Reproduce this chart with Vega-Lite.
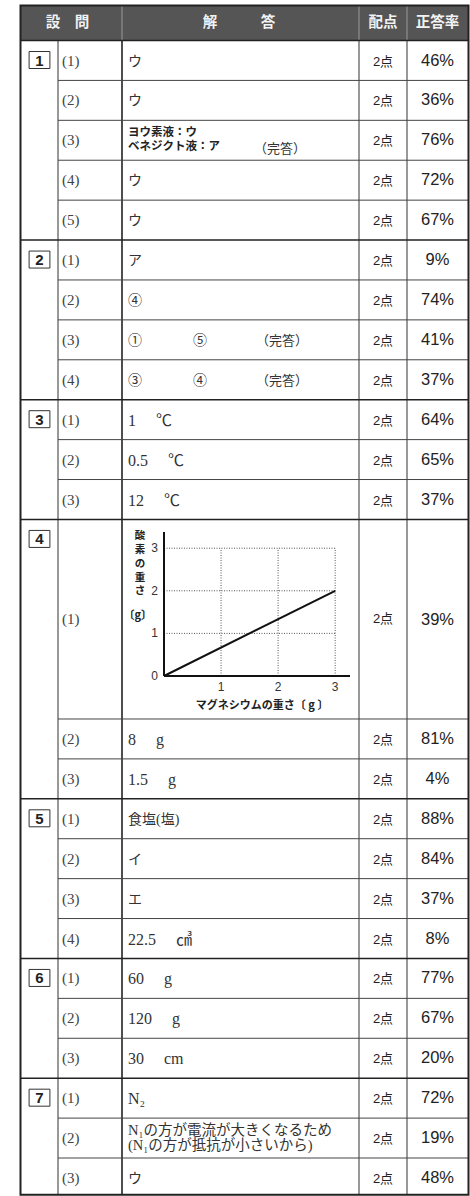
{
"$schema": "https://vega.github.io/schema/vega-lite/v6.json",
"width": 470, "height": 1196, "autosize": {"type": "none"}, "padding": 0, "background": "white",
"config": {"view": {"stroke": null}, "axis": {"disable": true}},
"datasets": {
"rows": [
{"q":"1","sub":"(1)","row":0,"span":1,"ans":"ウ","pt":"2点","rate":"46%"},
{"q":"1","sub":"(2)","row":1,"span":1,"ans":"ウ","pt":"2点","rate":"36%"},
{"q":"1","sub":"(3)","row":2,"span":1,"bold":"ヨウ素液：ウ\nベネジクト液：ア","kanto":"（完答）","pt":"2点","rate":"76%"},
{"q":"1","sub":"(4)","row":3,"span":1,"ans":"ウ","pt":"2点","rate":"72%"},
{"q":"1","sub":"(5)","row":4,"span":1,"ans":"ウ","pt":"2点","rate":"67%"},
{"q":"2","sub":"(1)","row":5,"span":1,"ans":"ア","pt":"2点","rate":"9%"},
{"q":"2","sub":"(2)","row":6,"span":1,"ans":"④","pt":"2点","rate":"74%"},
{"q":"2","sub":"(3)","row":7,"span":1,"ans":"①","a2":"⑤","a3":"（完答）","pt":"2点","rate":"41%"},
{"q":"2","sub":"(4)","row":8,"span":1,"ans":"③","a2":"④","a3":"（完答）","pt":"2点","rate":"37%"},
{"q":"3","sub":"(1)","row":9,"span":1,"ans":"1　 ℃","pt":"2点","rate":"64%"},
{"q":"3","sub":"(2)","row":10,"span":1,"ans":"0.5　 ℃","pt":"2点","rate":"65%"},
{"q":"3","sub":"(3)","row":11,"span":1,"ans":"12　 ℃","pt":"2点","rate":"37%"},
{"q":"4","sub":"(1)","row":12,"span":5,"pt":"2点","rate":"39%"},
{"q":"4","sub":"(2)","row":17,"span":1,"ans":"8　 g","pt":"2点","rate":"81%"},
{"q":"4","sub":"(3)","row":18,"span":1,"ans":"1.5　 g","pt":"2点","rate":"4%"},
{"q":"5","sub":"(1)","row":19,"span":1,"ans":"食塩(塩)","pt":"2点","rate":"88%"},
{"q":"5","sub":"(2)","row":20,"span":1,"ans":"イ","pt":"2点","rate":"84%"},
{"q":"5","sub":"(3)","row":21,"span":1,"ans":"エ","pt":"2点","rate":"37%"},
{"q":"5","sub":"(4)","row":22,"span":1,"ans":"22.5　 ㎤","pt":"2点","rate":"8%"},
{"q":"6","sub":"(1)","row":23,"span":1,"ans":"60　 g","pt":"2点","rate":"77%"},
{"q":"6","sub":"(2)","row":24,"span":1,"ans":"120　 g","pt":"2点","rate":"67%"},
{"q":"6","sub":"(3)","row":25,"span":1,"ans":"30　 cm","pt":"2点","rate":"20%"},
{"q":"7","sub":"(1)","row":26,"span":1,"ans":"N₂","pt":"2点","rate":"72%"},
{"q":"7","sub":"(2)","row":27,"span":1,"ans":"N₁の方が電流が大きくなるため\n(N₁の方が抵抗が小さいから)","pt":"2点","rate":"19%"},
{"q":"7","sub":"(3)","row":28,"span":1,"ans":"ウ","pt":"2点","rate":"48%"}
],
"header": [{"col":"q","label":"設　問"},{"col":"ans","label":"解　　　答"},{"col":"pt","label":"配点"},{"col":"rate","label":"正答率"}],
"frame": [{"id":1}],
"ticks": [{"v":0},{"v":1},{"v":2},{"v":3}],
"mg": [{"mg":0,"o":0},{"mg":3,"o":2}]
},
"resolve": {"scale": {"x": "independent", "y": "independent"}},
"layer": [
{
"layer": [
{"data":{"name":"frame"},"mark":{"type":"rect","fill":"#555555"},
 "encoding":{"x":{"datum":20.5,"type":"quantitative","scale":{"domain":[0,470],"nice":false,"zero":false}},"x2":{"datum":468.5},
 "y":{"datum":-0.88,"type":"quantitative","scale":{"domain":[-1.0148,28.952],"reverse":true,"nice":false,"zero":false}},"y2":{"datum":0}}},
{"data":{"name":"frame"},"mark":{"type":"rule","color":"#9a9a9a","strokeWidth":1},
 "encoding":{"x":{"datum":122,"type":"quantitative"},"y":{"datum":-0.88,"type":"quantitative"},"y2":{"datum":0}}},
{"data":{"name":"frame"},"mark":{"type":"rule","color":"#9a9a9a","strokeWidth":1},
 "encoding":{"x":{"datum":359,"type":"quantitative"},"y":{"datum":-0.88,"type":"quantitative"},"y2":{"datum":0}}},
{"data":{"name":"frame"},"mark":{"type":"rule","color":"#9a9a9a","strokeWidth":1},
 "encoding":{"x":{"datum":407,"type":"quantitative"},"y":{"datum":-0.88,"type":"quantitative"},"y2":{"datum":0}}},
{"data":{"name":"frame"},"mark":{"type":"rule","color":"#333333","strokeWidth":1},
 "encoding":{"x":{"datum":58,"type":"quantitative"},"y":{"datum":0,"type":"quantitative"},"y2":{"datum":28.92}}},
{"data":{"name":"frame"},"mark":{"type":"rule","color":"#222222","strokeWidth":1.6},
 "encoding":{"x":{"datum":122,"type":"quantitative"},"y":{"datum":0,"type":"quantitative"},"y2":{"datum":28.92}}},
{"data":{"name":"frame"},"mark":{"type":"rule","color":"#333333","strokeWidth":1},
 "encoding":{"x":{"datum":359,"type":"quantitative"},"y":{"datum":0,"type":"quantitative"},"y2":{"datum":28.92}}},
{"data":{"name":"frame"},"mark":{"type":"rule","color":"#333333","strokeWidth":1},
 "encoding":{"x":{"datum":407,"type":"quantitative"},"y":{"datum":0,"type":"quantitative"},"y2":{"datum":28.92}}},
{"data":{"name":"rows"},"transform":[{"filter":"datum.sub != '(1)'"}],"mark":{"type":"rule","color":"#444444","strokeWidth":1},
 "encoding":{"x":{"datum":58,"type":"quantitative"},"x2":{"datum":468.5},"y":{"field":"row","type":"quantitative"}}},
{"data":{"name":"rows"},"transform":[{"filter":"datum.sub == '(1)'"}],"mark":{"type":"rule","color":"#222222","strokeWidth":1.5},
 "encoding":{"x":{"datum":20.5,"type":"quantitative"},"x2":{"datum":468.5},"y":{"field":"row","type":"quantitative"}}},
{"data":{"name":"header"},"transform":[{"filter":"datum.col == 'q'"}],"mark":{"type":"text","align":"center","baseline":"middle","font":"'Noto Sans CJK JP', sans-serif","fontWeight":"bold","fontSize":14.5,"fill":"#f2f2f2"},
 "encoding":{"x":{"datum":67.5,"type":"quantitative"},"y":{"datum":-0.44,"type":"quantitative"},"text":{"field":"label"}}},
{"data":{"name":"header"},"transform":[{"filter":"datum.col == 'ans'"}],"mark":{"type":"text","align":"center","baseline":"middle","font":"'Noto Sans CJK JP', sans-serif","fontWeight":"bold","fontSize":14.5,"fill":"#f2f2f2"},
 "encoding":{"x":{"datum":239,"type":"quantitative"},"y":{"datum":-0.44,"type":"quantitative"},"text":{"field":"label"}}},
{"data":{"name":"header"},"transform":[{"filter":"datum.col == 'pt'"}],"mark":{"type":"text","align":"center","baseline":"middle","font":"'Noto Sans CJK JP', sans-serif","fontWeight":"bold","fontSize":14.5,"fill":"#f2f2f2"},
 "encoding":{"x":{"datum":383,"type":"quantitative"},"y":{"datum":-0.44,"type":"quantitative"},"text":{"field":"label"}}},
{"data":{"name":"header"},"transform":[{"filter":"datum.col == 'rate'"}],"mark":{"type":"text","align":"center","baseline":"middle","font":"'Noto Sans CJK JP', sans-serif","fontWeight":"bold","fontSize":14.5,"fill":"#f2f2f2"},
 "encoding":{"x":{"datum":437.5,"type":"quantitative"},"y":{"datum":-0.44,"type":"quantitative"},"text":{"field":"label"}}},
{"data":{"name":"rows"},"transform":[{"filter":"datum.sub == '(1)'"}],"mark":{"type":"point","shape":"M-1.3,1.375H1.3V3.5H-1.3Z","size":256,"filled":false,"stroke":"#333333","strokeWidth":1,"opacity":1},
 "encoding":{"x":{"datum":39.5,"type":"quantitative"},"y":{"field":"row","type":"quantitative"}}},
{"data":{"name":"rows"},"transform":[{"filter":"datum.sub == '(1)'"}],"mark":{"type":"text","align":"center","baseline":"middle","dy":20,"font":"'Liberation Sans', sans-serif","fontWeight":"bold","fontSize":15,"fill":"#222222"},
 "encoding":{"x":{"datum":39.5,"type":"quantitative"},"y":{"field":"row","type":"quantitative"},"text":{"field":"q"}}},
{"data":{"name":"rows"},"transform":[{"filter":"datum.span == 1"}],"mark":{"type":"text","align":"left","baseline":"middle","dy":20,"font":"'Liberation Serif', serif","fontSize":15,"fill":"#444444"},
 "encoding":{"x":{"datum":62,"type":"quantitative"},"y":{"field":"row","type":"quantitative"},"text":{"field":"sub"}}},
{"data":{"name":"rows"},"transform":[{"filter":"datum.span == 5"}],"mark":{"type":"text","align":"left","baseline":"middle","dy":100,"font":"'Liberation Serif', serif","fontSize":15,"fill":"#444444"},
 "encoding":{"x":{"datum":62,"type":"quantitative"},"y":{"field":"row","type":"quantitative"},"text":{"field":"sub"}}},
{"data":{"name":"rows"},"transform":[{"filter":"isValid(datum.ans) && test(/^[0-9N]/, datum.ans) && !test(/\\n/, datum.ans)"}],"mark":{"type":"text","align":"left","baseline":"middle","dy":21,"font":"'Liberation Serif', 'Noto Sans CJK JP', serif","fontSize":16,"fill":"#333333"},
 "encoding":{"x":{"datum":128,"type":"quantitative"},"y":{"field":"row","type":"quantitative"},"text":{"field":"ans"}}},
{"data":{"name":"rows"},"transform":[{"filter":"isValid(datum.ans) && !test(/^[0-9N]/, datum.ans)"}],"mark":{"type":"text","align":"left","baseline":"middle","dy":21,"font":"'Liberation Serif', 'Noto Sans CJK JP', serif","fontSize":14,"fill":"#333333"},
 "encoding":{"x":{"datum":128,"type":"quantitative"},"y":{"field":"row","type":"quantitative"},"text":{"field":"ans"}}},
{"data":{"name":"rows"},"transform":[{"filter":"isValid(datum.ans) && test(/\\n/, datum.ans)"}],"mark":{"type":"text","align":"left","baseline":"middle","dy":13,"lineBreak":"\n","lineHeight":15,"font":"'Liberation Serif', 'Noto Sans CJK JP', serif","fontSize":14.5,"fill":"#333333"},
 "encoding":{"x":{"datum":128,"type":"quantitative"},"y":{"field":"row","type":"quantitative"},"text":{"field":"ans"}}},
{"data":{"name":"rows"},"transform":[{"filter":"isValid(datum.a2)"}],"mark":{"type":"text","align":"left","baseline":"middle","dy":21,"font":"'Liberation Serif', 'Noto Sans CJK JP', serif","fontSize":14,"fill":"#333333"},
 "encoding":{"x":{"datum":193,"type":"quantitative"},"y":{"field":"row","type":"quantitative"},"text":{"field":"a2"}}},
{"data":{"name":"rows"},"transform":[{"filter":"isValid(datum.a3)"}],"mark":{"type":"text","align":"left","baseline":"middle","dy":21,"font":"'Noto Sans CJK JP', serif","fontSize":13,"fill":"#333333"},
 "encoding":{"x":{"datum":256,"type":"quantitative"},"y":{"field":"row","type":"quantitative"},"text":{"field":"a3"}}},
{"data":{"name":"rows"},"transform":[{"filter":"isValid(datum.bold)"}],"mark":{"type":"text","align":"left","baseline":"middle","dy":12.5,"lineBreak":"\n","lineHeight":14,"font":"'Noto Sans CJK JP', sans-serif","fontWeight":"bold","fontSize":11.5,"fill":"#222222"},
 "encoding":{"x":{"datum":128,"type":"quantitative"},"y":{"field":"row","type":"quantitative"},"text":{"field":"bold"}}},
{"data":{"name":"rows"},"transform":[{"filter":"isValid(datum.kanto)"}],"mark":{"type":"text","align":"left","baseline":"middle","dy":29,"font":"'Noto Sans CJK JP', serif","fontSize":13,"fill":"#333333"},
 "encoding":{"x":{"datum":254,"type":"quantitative"},"y":{"field":"row","type":"quantitative"},"text":{"field":"kanto"}}},
{"data":{"name":"rows"},"transform":[{"filter":"datum.span == 1"}],"mark":{"type":"text","align":"center","baseline":"middle","dy":21,"font":"'Liberation Sans', 'Noto Sans CJK JP', sans-serif","fontSize":13,"fill":"#222222"},
 "encoding":{"x":{"datum":383,"type":"quantitative"},"y":{"field":"row","type":"quantitative"},"text":{"field":"pt"}}},
{"data":{"name":"rows"},"transform":[{"filter":"datum.span == 5"}],"mark":{"type":"text","align":"center","baseline":"middle","dy":100,"font":"'Liberation Sans', 'Noto Sans CJK JP', sans-serif","fontSize":13,"fill":"#222222"},
 "encoding":{"x":{"datum":383,"type":"quantitative"},"y":{"field":"row","type":"quantitative"},"text":{"field":"pt"}}},
{"data":{"name":"rows"},"transform":[{"filter":"datum.span == 1"}],"mark":{"type":"text","align":"center","baseline":"middle","dy":20,"font":"'Liberation Sans', sans-serif","fontSize":16.5,"fill":"#222222"},
 "encoding":{"x":{"datum":437.5,"type":"quantitative"},"y":{"field":"row","type":"quantitative"},"text":{"field":"rate"}}},
{"data":{"name":"rows"},"transform":[{"filter":"datum.span == 5"}],"mark":{"type":"text","align":"center","baseline":"middle","dy":101,"font":"'Liberation Sans', sans-serif","fontSize":16.5,"fill":"#222222"},
 "encoding":{"x":{"datum":437.5,"type":"quantitative"},"y":{"field":"row","type":"quantitative"},"text":{"field":"rate"}}},
{"data":{"name":"frame"},"mark":{"type":"rect","fill":null,"fillOpacity":0,"stroke":"#222222","strokeWidth":2},
 "encoding":{"x":{"datum":20.5,"type":"quantitative"},"x2":{"datum":468.5},"y":{"datum":-0.88,"type":"quantitative"},"y2":{"datum":28.92}}}
]
},
{
"layer": [
{"data":{"name":"ticks"},"transform":[{"filter":"datum.v > 0"}],"mark":{"type":"rule","color":"#555555","strokeWidth":1,"strokeDash":[1,1.5]},
 "encoding":{"x":{"field":"v","type":"quantitative","scale":{"domain":[0,3.26],"range":[164,350],"nice":false,"zero":false}},
 "y":{"datum":0,"type":"quantitative","scale":{"domain":[0,3.38],"range":[676,532],"nice":false,"zero":false}},"y2":{"datum":3}}},
{"data":{"name":"ticks"},"transform":[{"filter":"datum.v > 0"}],"mark":{"type":"rule","color":"#555555","strokeWidth":1,"strokeDash":[1,1.5]},
 "encoding":{"y":{"field":"v","type":"quantitative"},"x":{"datum":0,"type":"quantitative"},"x2":{"datum":3}}},
{"data":{"name":"frame"},"mark":{"type":"rule","color":"#111111","strokeWidth":2},
 "encoding":{"x":{"datum":0,"type":"quantitative"},"x2":{"datum":3.26},"y":{"datum":0,"type":"quantitative"}}},
{"data":{"name":"frame"},"mark":{"type":"rule","color":"#111111","strokeWidth":2},
 "encoding":{"x":{"datum":0,"type":"quantitative"},"y":{"datum":0,"type":"quantitative"},"y2":{"datum":3.38}}},
{"data":{"name":"mg"},"mark":{"type":"line","color":"#111111","strokeWidth":2},
 "encoding":{"x":{"field":"mg","type":"quantitative"},"y":{"field":"o","type":"quantitative"}}},
{"data":{"name":"ticks"},"mark":{"type":"text","align":"right","baseline":"middle","dx":-6,"font":"'Liberation Sans', sans-serif","fontSize":12,"fill":"#333333"},
 "encoding":{"x":{"datum":0,"type":"quantitative"},"y":{"field":"v","type":"quantitative"},"text":{"field":"v","type":"quantitative"}}},
{"data":{"name":"ticks"},"transform":[{"filter":"datum.v > 0"}],"mark":{"type":"text","align":"center","baseline":"middle","dy":11,"font":"'Liberation Sans', sans-serif","fontSize":12,"fill":"#333333"},
 "encoding":{"x":{"field":"v","type":"quantitative"},"y":{"datum":0,"type":"quantitative"},"text":{"field":"v","type":"quantitative"}}},
{"data":{"name":"frame"},"mark":{"type":"text","text":"マグネシウムの重さ〔 g 〕","align":"center","baseline":"middle","dy":30,"font":"'Noto Sans CJK JP', sans-serif","fontWeight":"bold","fontSize":11,"fill":"#222222"},
 "encoding":{"x":{"datum":1.72,"type":"quantitative"},"y":{"datum":0,"type":"quantitative"}}},
{"data":{"name":"frame"},"mark":{"type":"text","text":"酸\n素\nの\n重\nさ","lineBreak":"\n","align":"center","baseline":"top","lineHeight":13.8,"font":"'Noto Sans CJK JP', sans-serif","fontWeight":"bold","fontSize":10.5,"fill":"#222222"},
 "encoding":{"x":{"datum":-0.42,"type":"quantitative"},"y":{"datum":3.4,"type":"quantitative"}}},
{"data":{"name":"frame"},"mark":{"type":"text","text":"〔g〕","align":"center","baseline":"middle","font":"'Noto Sans CJK JP', sans-serif","fontWeight":"bold","fontSize":11,"fill":"#222222"},
 "encoding":{"x":{"datum":-0.46,"type":"quantitative"},"y":{"datum":1.42,"type":"quantitative"}}}
]
}
]
}
